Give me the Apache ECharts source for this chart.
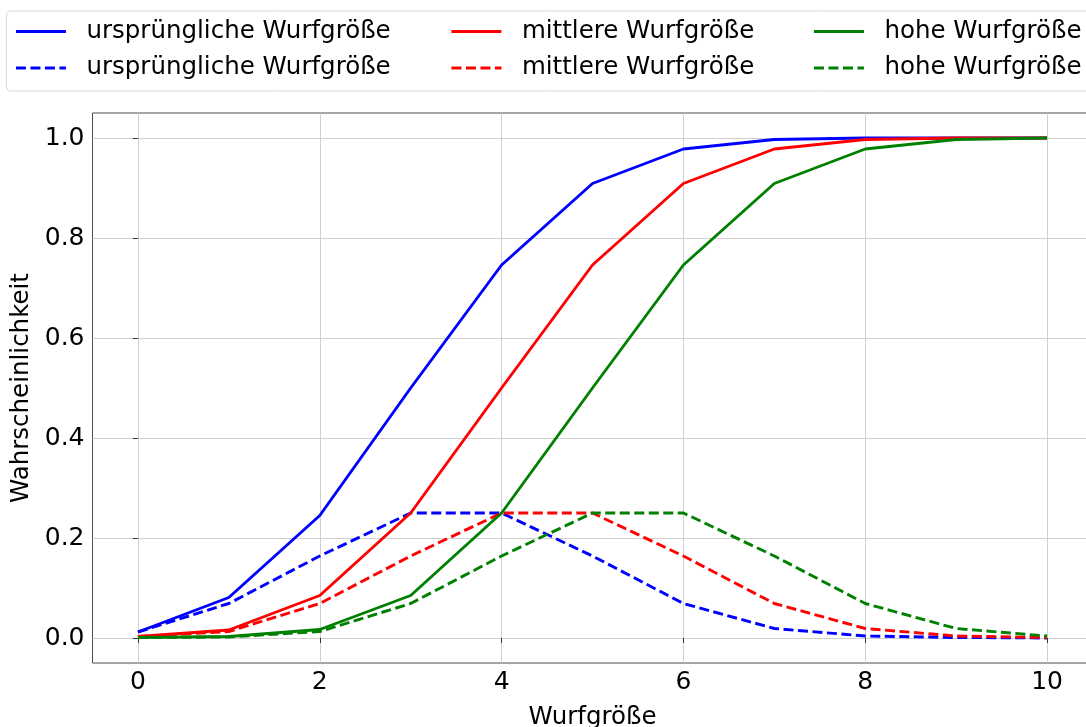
<!DOCTYPE html>
<html>
<head>
<meta charset="utf-8">
<script src="https://cdn.jsdelivr.net/npm/echarts@6/dist/echarts.min.js"></script>
<style>
  html, body { margin: 0; padding: 0; background: #fff; }
  #chart { width: 1086px; height: 727px; }
</style>
</head>
<body>
<div id="chart"></div>
<script>
// Wurfgröße 0..10
const wurf = [0, 1, 2, 3, 4, 5, 6, 7, 8, 9, 10];

// kumulierte Wahrscheinlichkeit (durchgezogen)
const ursprCdf = [0.012, 0.081, 0.245, 0.500, 0.746, 0.909, 0.978, 0.997, 1.000, 1.000, 1.000];
const mittelCdf = [0.003, 0.016, 0.085, 0.250, 0.500, 0.746, 0.909, 0.978, 0.997, 1.000, 1.000];
const hochCdf = [0.001, 0.003, 0.017, 0.085, 0.250, 0.500, 0.746, 0.909, 0.978, 0.997, 1.000];

// Einzelwahrscheinlichkeit (gestrichelt)
const ursprPmf = [0.012, 0.069, 0.164, 0.250, 0.250, 0.164, 0.069, 0.019, 0.004, 0.001, 0.000];
const mittelPmf = [0.003, 0.013, 0.069, 0.164, 0.250, 0.250, 0.164, 0.069, 0.019, 0.004, 0.001];
const hochPmf = [0.001, 0.002, 0.013, 0.069, 0.164, 0.250, 0.250, 0.164, 0.069, 0.019, 0.004];

const xTicks = [0, 2, 4, 6, 8, 10];
const yTicks = [0, 0.2, 0.4, 0.6, 0.8, 1.0];

const labels = ['ursprüngliche Wurfgröße', 'mittlere Wurfgröße', 'hohe Wurfgröße'];
const colors = ['#0000ff', '#ff0000', '#008000'];

const FONT = 'DejaVu Sans';
const pairs = ys => wurf.map((x, i) => [x, ys[i]]);

function lineSeries(name, ys, color, dashed) {
  return {
    name: name,
    type: 'line',
    data: pairs(ys),
    symbol: 'none',
    smooth: false,
    animation: false,
    lineStyle: { color: color, width: 2.9, type: dashed ? [10, 4.5] : 'solid' },
    itemStyle: { color: color },
    emphasis: { disabled: true }
  };
}

const groups = [[ursprCdf, ursprPmf], [mittelCdf, mittelPmf], [hochCdf, hochPmf]];
const series = [];
groups.forEach((g, k) => {
  series.push(lineSeries(labels[k] + '|kum', g[0], colors[k], false));
  series.push(lineSeries(labels[k] + '|einz', g[1], colors[k], true));
});

const legendCols = [14.5, 450, 812.5];
const legends = labels.map((lab, k) => ({
  orient: 'vertical',
  left: legendCols[k],
  top: 17.5,
  padding: 0,
  itemGap: 8.5,
  itemWidth: 50,
  itemHeight: 14,
  data: [lab + '|kum', lab + '|einz'],
  formatter: n => n.split('|')[0],
  selectedMode: false,
  itemStyle: { opacity: 0 },
  lineStyle: { width: 2.9 },
  textStyle: { fontFamily: FONT, fontSize: 24.5, color: '#000', lineHeight: 28, padding: [0, 0, 0, 15.5] }
}));

const chart = echarts.init(document.getElementById('chart'), null, { renderer: 'canvas' });
chart.setOption({
  backgroundColor: '#fff',
  animation: false,
  graphic: [{
    type: 'rect',
    left: 6, top: 10.5,
    shape: { width: 1100, height: 80, r: 4 },
    style: { fill: 'rgba(255,255,255,0.8)', stroke: '#d9d9d9', lineWidth: 1 },
    z: -1
  }],
  legend: legends,
  grid: {
    left: 92.5, top: 113, width: 1000, height: 550,
    outerBoundsMode: 'none',
    show: true, borderColor: '#4d4d4d', borderWidth: 1, backgroundColor: 'transparent',
    containLabel: false
  },
  xAxis: {
    type: 'value', min: -0.5, max: 10.5,
    name: 'Wurfgröße', nameLocation: 'middle', nameGap: 42,
    nameTextStyle: { fontFamily: FONT, fontSize: 24.5, color: '#000' },
    axisLine: { show: false },
    axisTick: { show: true, inside: false, length: 5, customValues: xTicks, lineStyle: { color: '#333' } },
    axisLabel: { customValues: xTicks, fontFamily: FONT, fontSize: 25, color: '#000', margin: 7 },
    splitLine: { show: true, lineStyle: { color: '#cfcfcf', width: 1 } }
  },
  yAxis: {
    type: 'value', min: -0.05, max: 1.05,
    name: 'Wahrscheinlichkeit', nameLocation: 'middle', nameGap: 54, nameRotate: 90,
    nameTextStyle: { fontFamily: FONT, fontSize: 24.5, color: '#000' },
    axisLine: { show: false },
    axisTick: { show: true, inside: false, length: 5, customValues: yTicks, lineStyle: { color: '#333' } },
    axisLabel: { customValues: yTicks, fontFamily: FONT, fontSize: 25, color: '#000', margin: 8,
                 formatter: v => v.toFixed(1) },
    splitLine: { show: true, lineStyle: { color: '#cfcfcf', width: 1 } }
  },
  series: series
});
</script>
</body>
</html>
